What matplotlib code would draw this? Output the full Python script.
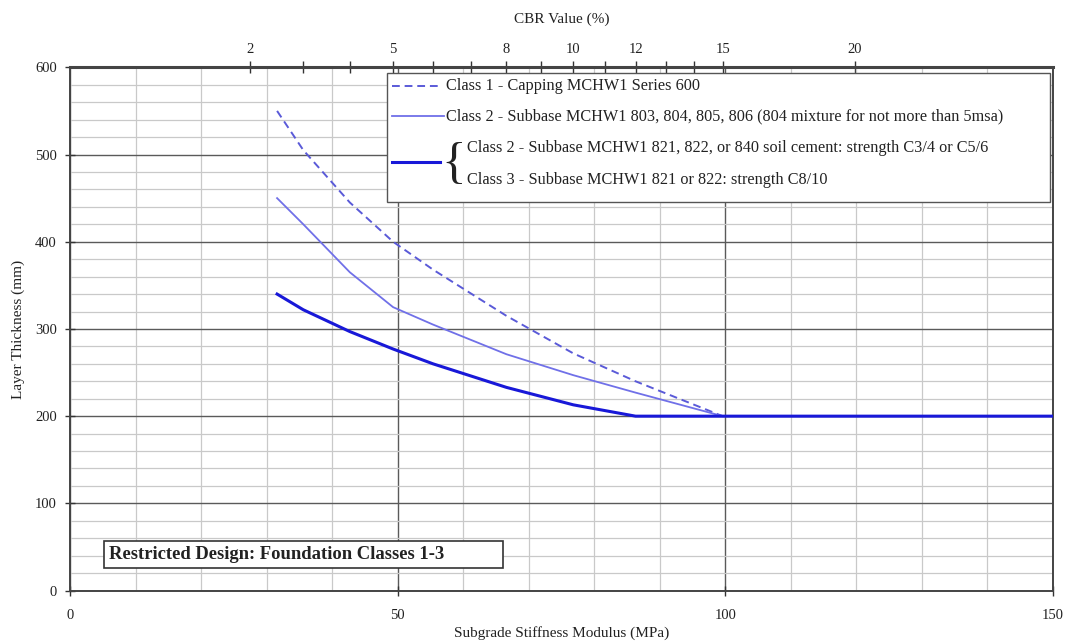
import numpy as np
import matplotlib
matplotlib.use("Agg")
import matplotlib.pyplot as plt
from matplotlib.ticker import MultipleLocator, FixedLocator, NullFormatter
from matplotlib.patches import Rectangle
from matplotlib.lines import Line2D

plt.rcParams['font.family'] = ['Liberation Serif', 'DejaVu Serif']

# ---- data ----
modulus_mpa = [31.6, 35.6, 42.7, 49.3, 55.4, 66.6, 76.8, 86.3, 99.6]
class1_capping = [550, 505, 445, 400, 368, 315, 272, 240, 200]
class2_granular = [450, 420, 365, 325, 305, 271, 247, 227, 200]
modulus_bound = [31.6, 35.6, 42.7, 49.3, 55.4, 66.6, 76.8, 86.3, 99.6, 150]
class23_bound = [340, 322, 297, 277, 260, 233, 213, 200, 200, 200]

cbr_major = [2, 5, 8, 10, 12, 15, 20]
cbr_minor = [3, 4, 6, 7, 9, 11, 13, 14]

legend_labels = [
    "Class 1 - Capping MCHW1 Series 600",
    "Class 2 - Subbase MCHW1 803, 804, 805, 806 (804 mixture for not more than 5msa)",
    "Class 2 - Subbase MCHW1 821, 822, or 840 soil cement: strength C3/4 or C5/6",
    "Class 3 - Subbase MCHW1 821 or 822: strength C8/10",
]
box_title = "Restricted Design: Foundation Classes 1-3"

# ---- layout ----
W, H = 1067, 643
fig = plt.figure(figsize=(W / 100, H / 100), dpi=100)
AX_L, AX_R, AX_T, AX_B = 70, 1053, 67.3, 590.6
ax = fig.add_axes([AX_L / W, 1 - AX_B / H, (AX_R - AX_L) / W, (AX_B - AX_T) / H])


def P(px, py):
    """pixel position -> axes fraction"""
    return ((px - AX_L) / (AX_R - AX_L), (AX_B - py) / (AX_B - AX_T))


ax.set_xlim(0, 150)
ax.set_ylim(0, 600)

ax.xaxis.set_major_locator(MultipleLocator(50))
ax.xaxis.set_minor_locator(MultipleLocator(10))
ax.yaxis.set_major_locator(MultipleLocator(100))
ax.yaxis.set_minor_locator(MultipleLocator(20))

ax.grid(which='minor', color='#c9c9c9', lw=0.9)
ax.grid(which='major', color='#5a5a5a', lw=1.0)
ax.set_axisbelow(True)

ax.tick_params(which='minor', length=0)
ax.tick_params(axis='both', which='major', direction='inout', length=7,
               width=1, color='#333333', labelsize=10.5, labelcolor='#222222')
ax.tick_params(axis='x', which='major', pad=10)
ax.tick_params(axis='y', which='major', pad=6)

for s in ax.spines.values():
    s.set_color('#444444')
    s.set_linewidth(1.4)
ax.spines['top'].set_linewidth(2.2)

ax.set_xlabel("Subgrade Stiffness Modulus (MPa)", fontsize=11, color='#222222', labelpad=3)
ax.set_ylabel("Layer Thickness (mm)", fontsize=11, color='#222222', labelpad=7)

# ---- top CBR axis ----
def e_to_cbr(e):
    e = np.clip(np.asarray(e, dtype=float), 1e-6, None)
    return (e / 17.6) ** (1 / 0.64)


def cbr_to_e(c):
    c = np.clip(np.asarray(c, dtype=float), 1e-6, None)
    return 17.6 * c ** 0.64


sec = ax.secondary_xaxis('top', functions=(e_to_cbr, cbr_to_e))
sec.xaxis.set_major_locator(FixedLocator(cbr_major))
sec.xaxis.set_minor_locator(FixedLocator(cbr_minor))
sec.xaxis.set_minor_formatter(NullFormatter())
sec.tick_params(which='both', direction='inout', length=8, width=1, color='#333333')
sec.tick_params(which='major', labelsize=10.5, labelcolor='#222222', pad=4)
sec.spines['top'].set_visible(False)
sec.set_xlabel("CBR Value (%)", fontsize=11, color='#222222', labelpad=15)

# ---- curves ----
c_light = '#7070e8'
c_dash = '#5a5ad8'
c_dark = '#1818d8'
ax.plot(modulus_mpa, class1_capping, color=c_dash, lw=1.4, ls=(0, (4, 2.5)), zorder=3)
ax.plot(modulus_mpa, class2_granular, color=c_light, lw=1.3, zorder=3)
ax.plot(modulus_bound, class23_bound, color=c_dark, lw=2.2, zorder=4)

# ---- legend box (drawn by hand) ----
x0, y0 = P(387, 202)
x1, y1 = P(1050, 73)
ax.add_patch(Rectangle((x0, y0), x1 - x0, y1 - y0, transform=ax.transAxes,
                       facecolor='white', edgecolor='#555555', lw=1.0,
                       zorder=6, clip_on=False))


def sample(xa, xb, y, **kw):
    (ax_, ay_), (bx_, by_) = P(xa, y), P(xb, y)
    ax.add_line(Line2D([ax_, bx_], [ay_, by_], transform=ax.transAxes,
                       zorder=7, clip_on=False, **kw))


def label(px, py, s, **kw):
    tx, ty = P(px, py)
    ax.text(tx, ty, s, transform=ax.transAxes, va='center', ha='left',
            zorder=7, color='#222222', **kw)


sample(392, 440, 86, color=c_dash, lw=1.4, ls=(0, (4, 2.5)))
label(446, 86, legend_labels[0], fontsize=11.7)
sample(392, 444, 116, color=c_light, lw=1.3)
label(446, 116, legend_labels[1], fontsize=11.7)
sample(392, 440, 162, color=c_dark, lw=2.2)
label(441, 165, "{", fontsize=37, fontweight='light')
label(467, 148, legend_labels[2], fontsize=11.7)
label(467, 180, legend_labels[3], fontsize=11.7)

# ---- restricted design box ----
bx0, by0 = P(104, 568)
bx1, by1 = P(503, 541)
ax.add_patch(Rectangle((bx0, by0), bx1 - bx0, by1 - by0, transform=ax.transAxes,
                       facecolor='white', edgecolor='#333333', lw=1.2,
                       zorder=6, clip_on=False))
label(109, 554.5, box_title, fontsize=13.4, fontweight='bold')

fig.savefig("out.png", dpi=100)
